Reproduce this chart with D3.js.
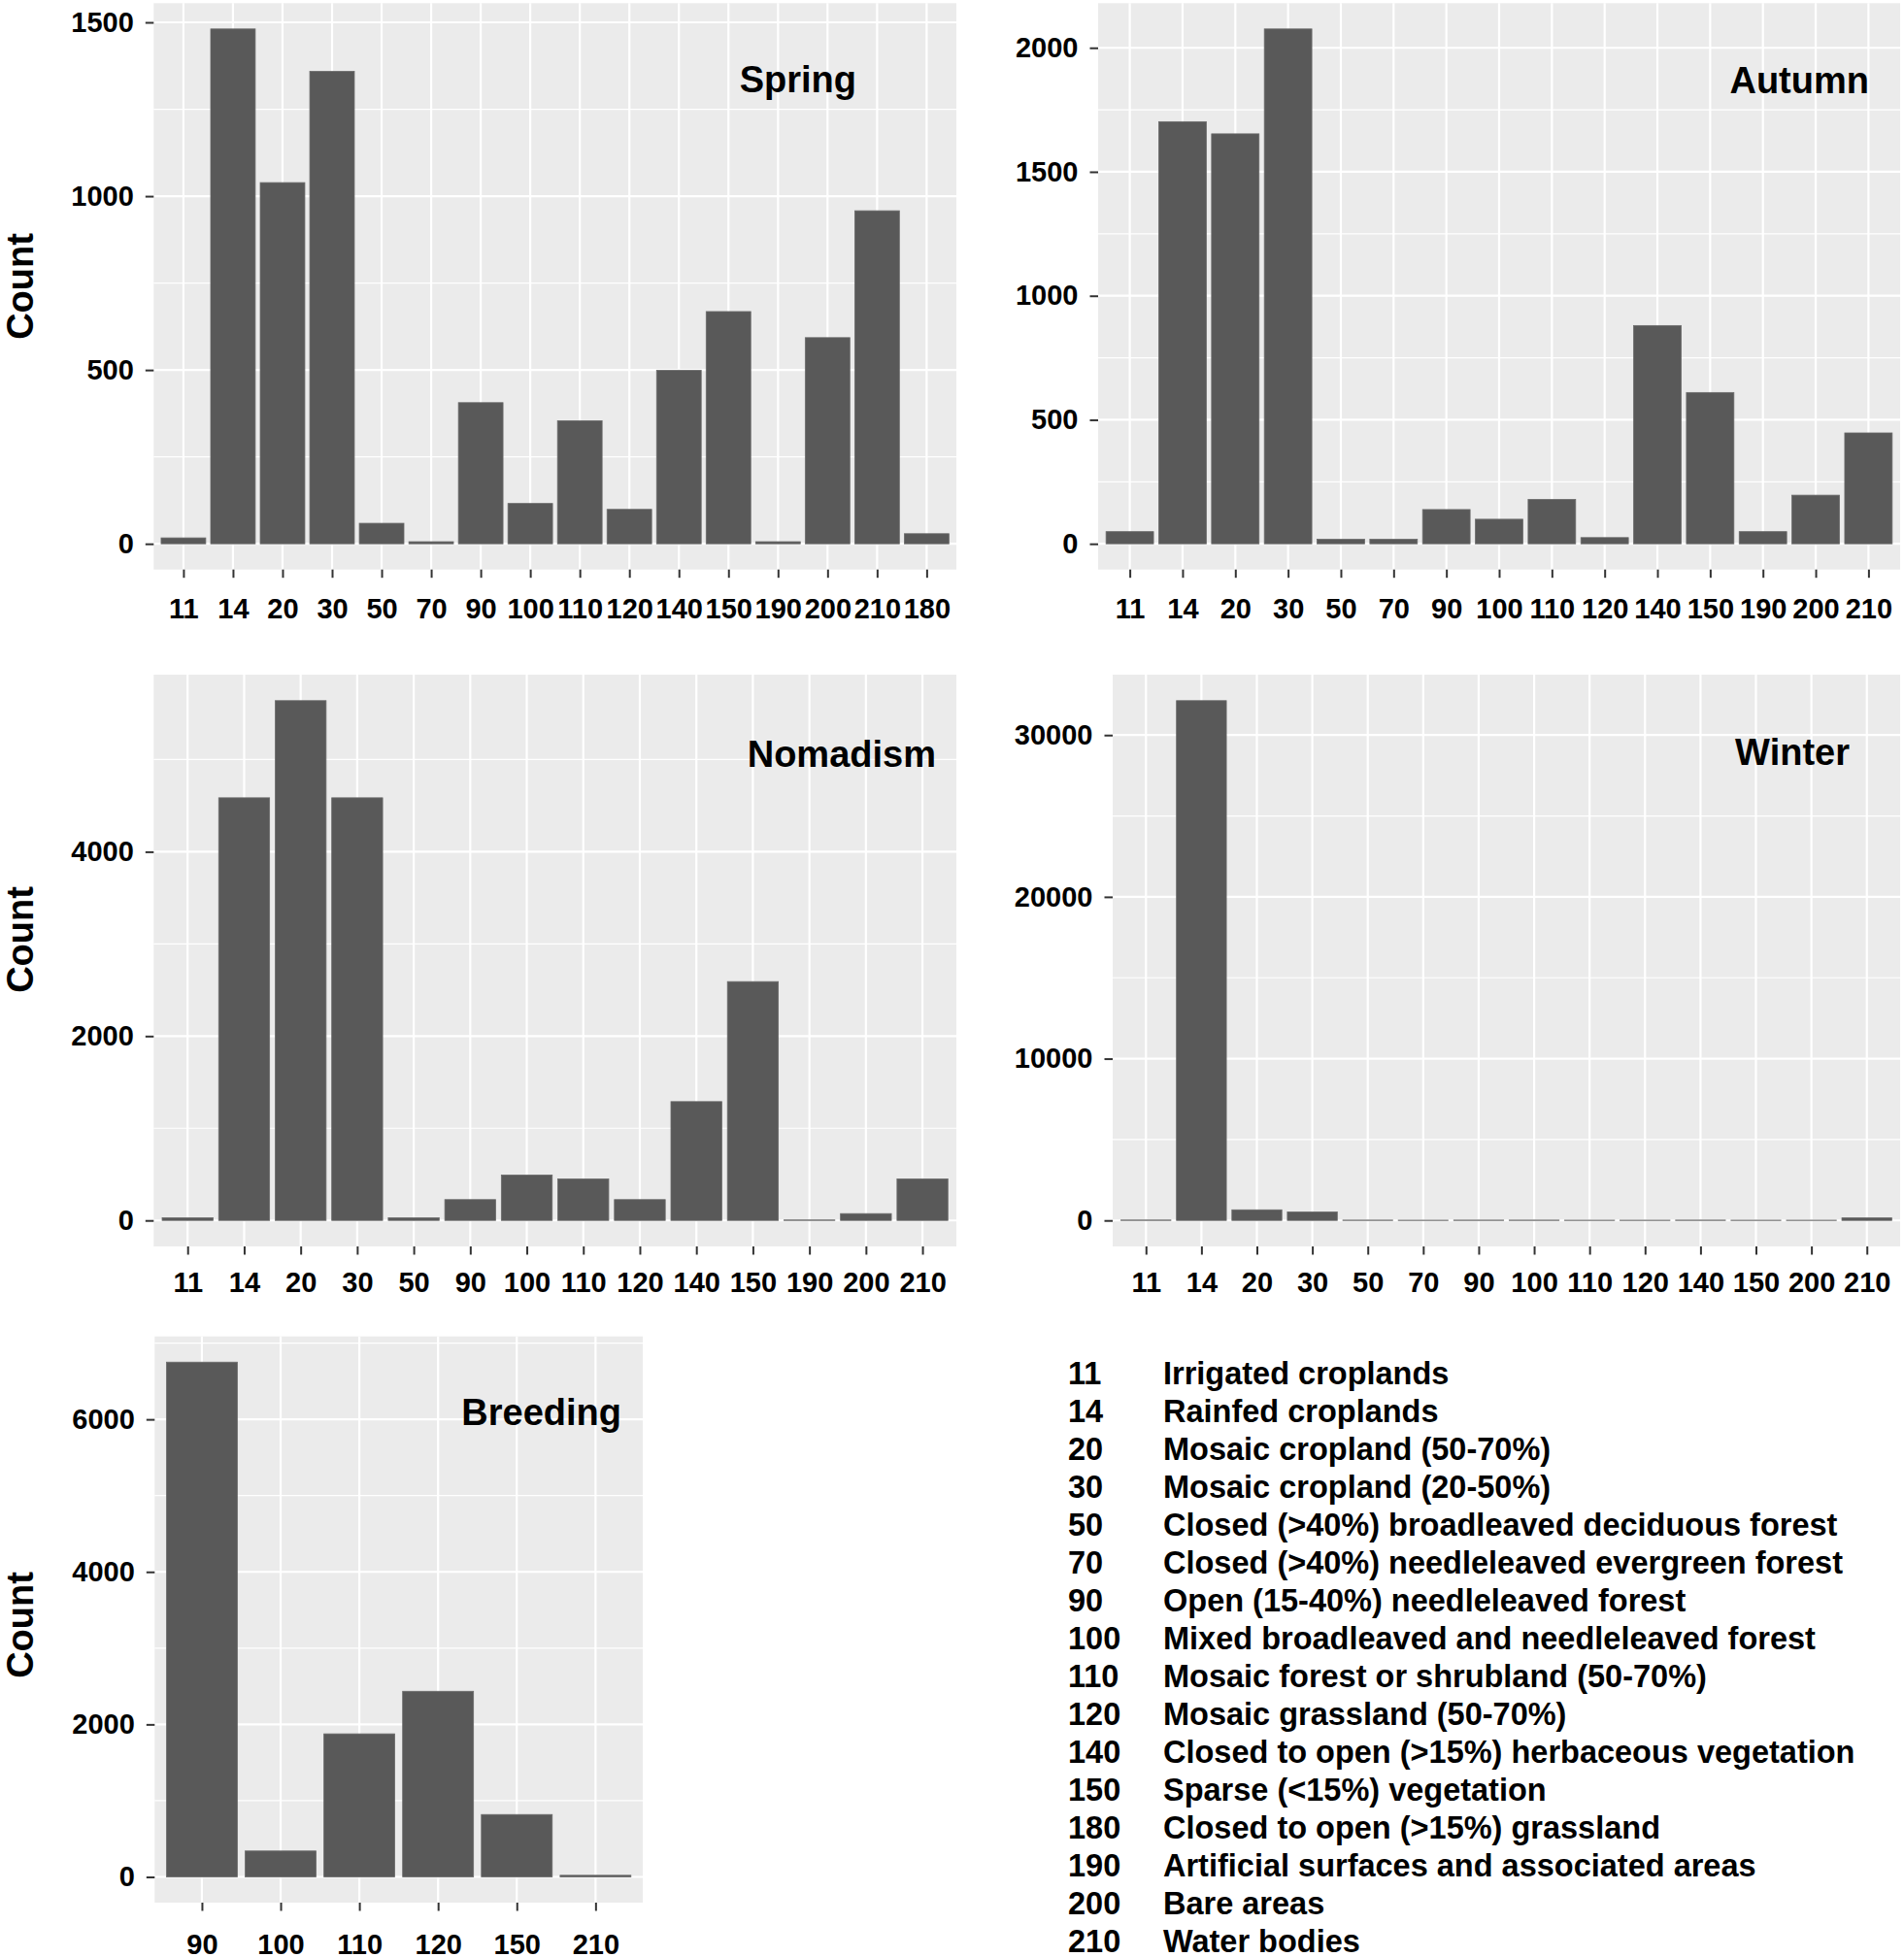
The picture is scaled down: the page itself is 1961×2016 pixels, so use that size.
<!DOCTYPE html>
<html>
<head>
<meta charset="utf-8">
<script src="https://cdn.jsdelivr.net/npm/d3@7"></script>
<style>
  body { margin: 0; background: white; }
  text { font-family: "Liberation Sans", Arial, sans-serif; font-weight: bold; }
</style>
</head>
<body>
<div id="wrapper"></div>
<script>
// land cover codes and counts
const springCodes = ["11","14","20","30","50","70","90","100","110","120","140","150","190","200","210","180"]
const springCounts = [17,1481,1039,1359,59,6,406,116,354,99,499,668,6,593,958,29]
const springTicks = [0,500,1000,1500]

const autumnCodes = ["11","14","20","30","50","70","90","100","110","120","140","150","190","200","210"]
const autumnCounts = [49,1702,1653,2076,18,18,138,99,179,25,880,610,49,196,447]
const autumnTicks = [0,500,1000,1500,2000]

const nomadismCodes = ["11","14","20","30","50","90","100","110","120","140","150","190","200","210"]
const nomadismCounts = [28,4585,5639,4585,28,226,493,451,226,1289,2591,5,74,451]
const nomadismTicks = [0,2000,4000]

const winterCodes = ["11","14","20","30","50","70","90","100","110","120","140","150","200","210"]
const winterCounts = [25,32127,656,525,20,15,20,20,15,15,20,15,15,157]
const winterTicks = [0,10000,20000,30000]

const breedingCodes = ["90","100","110","120","150","210"]
const breedingCounts = [6750,340,1876,2434,818,21]
const breedingTicks = [0,2000,4000,6000]

const legendCodes = ["11","14","20","30","50","70","90","100","110","120","140","150","180","190","200","210"]
const legendLabels = [
  "Irrigated croplands",
  "Rainfed croplands",
  "Mosaic cropland (50-70%)",
  "Mosaic cropland (20-50%)",
  "Closed (>40%) broadleaved deciduous forest",
  "Closed (>40%) needleleaved evergreen forest",
  "Open (15-40%) needleleaved forest",
  "Mixed broadleaved and needleleaved forest",
  "Mosaic forest or shrubland (50-70%)",
  "Mosaic grassland (50-70%)",
  "Closed to open (>15%) herbaceous vegetation",
  "Sparse (<15%) vegetation",
  "Closed to open (>15%) grassland",
  "Artificial surfaces and associated areas",
  "Bare areas",
  "Water bodies"
]

const width = 1961
const height = 2016

const wrapper = d3.select("#wrapper")
  .append("svg")
    .attr("width", width)
    .attr("height", height)
    .style("display", "block")

const panels = [
  {title: "Spring", codes: springCodes, counts: springCounts, ticks: springTicks,
   left: 158.3, right: 985, top: 3.3, bottom: 586.7, titleX: 882, titleY: 95, labelGap: 21.5, countY: 295},
  {title: "Autumn", codes: autumnCodes, counts: autumnCounts, ticks: autumnTicks,
   left: 1131, right: 1957, top: 3.3, bottom: 586.7, titleX: 1925, titleY: 96, labelGap: 21.5},
  {title: "Nomadism", codes: nomadismCodes, counts: nomadismCounts, ticks: nomadismTicks,
   left: 158.3, right: 985, top: 695, bottom: 1284, titleX: 964, titleY: 790, labelGap: 17.5, countY: 968},
  {title: "Winter", codes: winterCodes, counts: winterCounts, ticks: winterTicks,
   left: 1146, right: 1957, top: 695, bottom: 1284, titleX: 1905, titleY: 788, labelGap: 17.5},
  {title: "Breeding", codes: breedingCodes, counts: breedingCounts, ticks: breedingTicks,
   left: 159.3, right: 662, top: 1376.7, bottom: 1960, titleX: 640, titleY: 1468, labelGap: 24, countY: 1674}
]

const drawPanel = p => {
  const boundedWidth = p.right - p.left
  const boundedHeight = p.bottom - p.top
  const maxCount = d3.max(p.counts)

  const xScale = d3.scalePoint()
    .domain(p.codes)
    .range([0, boundedWidth])
    .padding(0.6)

  // ggplot style 5% expansion
  const yScale = d3.scaleLinear()
    .domain([-0.05 * maxCount, 1.05 * maxCount])
    .range([boundedHeight, 0])

  const bounds = wrapper.append("g")
    .attr("transform", `translate(${p.left},${p.top})`)

  bounds.append("rect")
    .attr("width", boundedWidth)
    .attr("height", boundedHeight)
    .attr("fill", "#ebebeb")

  const step = p.ticks[1] - p.ticks[0]
  const minor = p.ticks.map(t => t + step / 2)
    .filter(t => t < yScale.domain()[1])

  bounds.selectAll(".minor")
    .data(minor)
    .enter().append("line")
      .attr("x1", 0)
      .attr("x2", boundedWidth)
      .attr("y1", d => yScale(d))
      .attr("y2", d => yScale(d))
      .attr("stroke", "white")
      .attr("stroke-width", 1.2)

  bounds.selectAll(".major")
    .data(p.ticks)
    .enter().append("line")
      .attr("x1", 0)
      .attr("x2", boundedWidth)
      .attr("y1", d => yScale(d))
      .attr("y2", d => yScale(d))
      .attr("stroke", "white")
      .attr("stroke-width", 2.2)

  bounds.selectAll(".vgrid")
    .data(p.codes)
    .enter().append("line")
      .attr("x1", d => xScale(d))
      .attr("x2", d => xScale(d))
      .attr("y1", 0)
      .attr("y2", boundedHeight)
      .attr("stroke", "white")
      .attr("stroke-width", 2.2)

  const barWidth = xScale.step() * 0.9
  bounds.selectAll(".bar")
    .data(p.codes.map((c, i) => ({code: c, count: p.counts[i]})))
    .enter().append("rect")
      .attr("x", d => xScale(d.code) - barWidth / 2)
      .attr("y", d => yScale(d.count))
      .attr("width", barWidth)
      .attr("height", d => yScale(0) - yScale(d.count))
      .attr("fill", "#595959")
      .attr("stroke", "#6a6a6a")
      .attr("stroke-width", 0.8)

  const yAxis = bounds.append("g")
    .call(d3.axisLeft(yScale).tickValues(p.ticks).tickSize(8.5).tickPadding(12).tickFormat(d3.format("d")))
  yAxis.select(".domain").remove()
  yAxis.selectAll("line").attr("stroke", "#333").attr("stroke-width", 2)
  yAxis.selectAll("text")
    .attr("fill", "black")
    .style("font-size", "29px")
    .style("font-weight", "bold")
    .style("font-family", "'Liberation Sans', Arial, sans-serif")

  const xAxis = bounds.append("g")
    .attr("transform", `translate(0,${boundedHeight})`)
    .call(d3.axisBottom(xScale).tickSize(8.5).tickPadding(p.labelGap))
  xAxis.select(".domain").remove()
  xAxis.selectAll("line").attr("stroke", "#333").attr("stroke-width", 2)
  xAxis.selectAll("text")
    .attr("fill", "black")
    .style("font-size", "29px")
    .style("font-weight", "bold")
    .style("font-family", "'Liberation Sans', Arial, sans-serif")

  wrapper.append("text")
    .attr("x", p.titleX)
    .attr("y", p.titleY)
    .attr("text-anchor", "end")
    .style("font-size", "38px")
    .text(p.title)

  if (p.countY) {
    wrapper.append("text")
      .attr("transform", `translate(21,${p.countY}) rotate(-90)`)
      .attr("text-anchor", "middle")
      .attr("dominant-baseline", "central")
      .style("font-size", "38px")
      .text("Count")
  }
}

panels.forEach(drawPanel)

// code table in the empty corner
const legend = wrapper.append("g")
const rowY = d3.scaleLinear().domain([0, 15]).range([1426, 2011])

legend.selectAll(".code")
  .data(legendCodes)
  .enter().append("text")
    .attr("x", 1100)
    .attr("y", (d, i) => rowY(i))
    .style("font-size", "32.5px")
    .text(d => d)

legend.selectAll(".label")
  .data(legendLabels)
  .enter().append("text")
    .attr("x", 1198)
    .attr("y", (d, i) => rowY(i))
    .style("font-size", "32.5px")
    .text(d => d)
</script>
</body>
</html>
